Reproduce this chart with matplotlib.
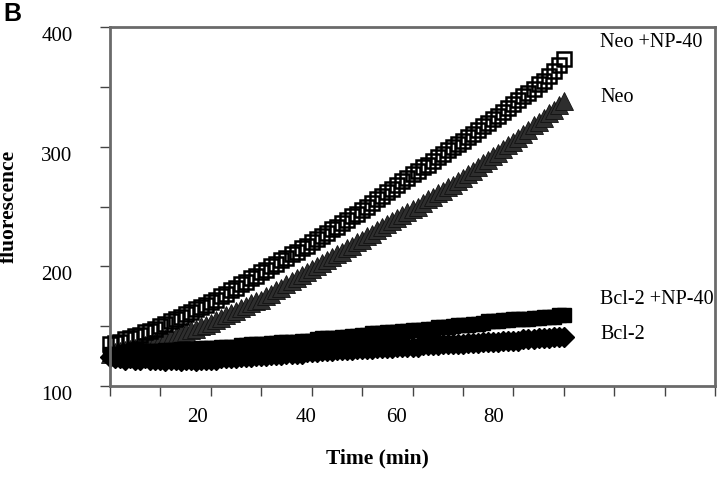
import numpy as np
import matplotlib
matplotlib.use('Agg')
from matplotlib import pyplot as plt
from matplotlib import transforms

# time in minutes, one reading per minute
time_min = list(range(0, 91))

neo_np40 = [135, 136, 137, 139, 140, 142, 143, 145, 146, 148,
            150, 152, 154, 156, 158, 160, 162, 164, 166, 168,
            170, 172, 175, 177, 180, 182, 185, 187, 190, 192,
            195, 197, 200, 202, 205, 207, 210, 212, 215, 217,
            220, 223, 225, 228, 231, 233, 236, 239, 242, 244,
            247, 250, 253, 256, 259, 262, 265, 268, 271, 274,
            277, 280, 283, 285, 288, 291, 294, 297, 300, 302,
            305, 308, 311, 314, 317, 320, 323, 326, 329, 332,
            336, 339, 342, 345, 348, 352, 355, 359, 363, 368, 373]

neo = [127, 128, 129, 130, 131, 132, 133, 134, 135, 137,
       138, 139, 141, 142, 144, 145, 147, 148, 150, 151,
       153, 155, 157, 159, 161, 163, 165, 167, 169, 171,
       172, 175, 177, 180, 182, 185, 188, 190, 193, 195,
       198, 200, 203, 205, 208, 210, 212, 215, 217, 220,
       222, 225, 227, 230, 233, 235, 238, 240, 243, 245,
       248, 250, 253, 256, 258, 261, 263, 266, 268, 271,
       274, 277, 280, 283, 286, 289, 292, 295, 298, 301,
       304, 307, 311, 314, 318, 321, 324, 328, 331, 335, 338]

bcl2_np40 = [127, 127, 127, 128, 128, 128, 128, 129, 129, 129,
             129, 130, 130, 130, 131, 131, 131, 131, 132, 132,
             132, 132, 133, 133, 133, 133, 134, 134, 135, 135,
             135, 135, 136, 136, 137, 137, 137, 137, 138, 138,
             138, 139, 140, 140, 140, 140, 141, 141, 142, 142,
             143, 143, 144, 144, 144, 145, 145, 145, 146, 146,
             147, 147, 147, 148, 148, 149, 149, 149, 150, 151,
             151, 151, 152, 152, 153, 154, 154, 154, 155, 155,
             156, 156, 156, 156, 157, 157, 158, 158, 158, 159, 159]

bcl2 = [124, 123, 123, 122, 123, 122, 122, 123, 122, 122,
        122, 121, 122, 122, 121, 122, 122, 121, 122, 122,
        122, 122, 123, 123, 123, 123, 124, 124, 124, 125,
        125, 125, 126, 126, 126, 127, 127, 127, 127, 128,
        128, 128, 129, 129, 129, 130, 130, 130, 130, 131,
        131, 131, 131, 132, 132, 132, 132, 133, 133, 133,
        133, 133, 134, 134, 134, 134, 135, 135, 135, 135,
        135, 136, 136, 136, 137, 137, 137, 137, 138, 138,
        138, 138, 139, 139, 139, 140, 140, 140, 141, 141, 141]

series_labels = ['Neo +NP-40', 'Neo', 'Bcl-2 +NP-40', 'Bcl-2']
label_y = [387, 341, 172, 143]
xtick_pos = [17.3, 38.9, 56.9, 76.0]
xtick_labels = ['20', '40', '60', '80']

serif = 'Liberation Serif'

fig = plt.figure(figsize=(7.2, 4.78), dpi=100)
ax = fig.add_axes([110 / 720, 1 - 386 / 478, 605 / 720, 359 / 478])

ax.plot(time_min, neo, linestyle='none', marker='^', markersize=12.5,
        markerfacecolor='#2e2e2e', markeredgecolor='#111111', markeredgewidth=0.6,
        clip_on=False)
ax.plot(time_min, neo_np40, linestyle='none', marker='s', markersize=9.5,
        markerfacecolor='none', markeredgecolor='black', markeredgewidth=1.8,
        clip_on=False)
ax.plot(time_min, bcl2, linestyle='none', marker='D', markersize=10,
        markerfacecolor='black', markeredgecolor='black', clip_on=False)
ax.plot(time_min, bcl2_np40, linestyle='none', marker='s', markersize=10.5,
        markerfacecolor='black', markeredgecolor='black', clip_on=False)

for lab, yv in zip(series_labels, label_y):
    ax.text(97.2, yv, lab, family=serif, fontsize=14.5, ha='left', va='center')

ax.set_xlim(0, 120)
ax.set_ylim(100, 400)

ax.set_xticks(np.arange(0, 121, 10))
ax.set_xticklabels([])
ax.set_xticks(xtick_pos, minor=True)
ax.set_xticklabels(xtick_labels, minor=True, family=serif, fontsize=15)
ax.tick_params(axis='x', which='major', direction='out', length=7, width=1, color='#444444')
ax.tick_params(axis='x', which='minor', length=0, pad=16)

ax.set_yticks([100, 200, 300, 400])
ax.set_yticklabels(['100', '200', '300', '400'], family=serif, fontsize=15)
ax.set_yticks([150, 250, 350], minor=True)
ax.tick_params(axis='y', which='both', direction='out', length=7, width=1,
               color='#444444', pad=20)
offset = transforms.ScaledTranslation(0, -7 / 100, fig.dpi_scale_trans)
for lbl in ax.get_yticklabels():
    lbl.set_transform(lbl.get_transform() + offset)

for sp in ax.spines.values():
    sp.set_color('#6a6a6a')
    sp.set_linewidth(2)

ax.set_ylabel('fluorescence', family=serif, fontsize=15.5, fontweight='bold')
ax.yaxis.set_label_coords(-(110 - 19) / 605, 0.5)
ax.set_xlabel('Time (min)', family=serif, fontsize=15.5, fontweight='bold')
ax.xaxis.set_label_coords((377 - 110) / 605, -(458 - 386) / 359)
ax.xaxis.label.set_va('center')

fig.text(3 / 720, 1 - 14 / 478, 'B', family='Liberation Sans', fontsize=18,
         fontweight='bold', ha='left', va='center')

plt.savefig('out.png', dpi=100)
